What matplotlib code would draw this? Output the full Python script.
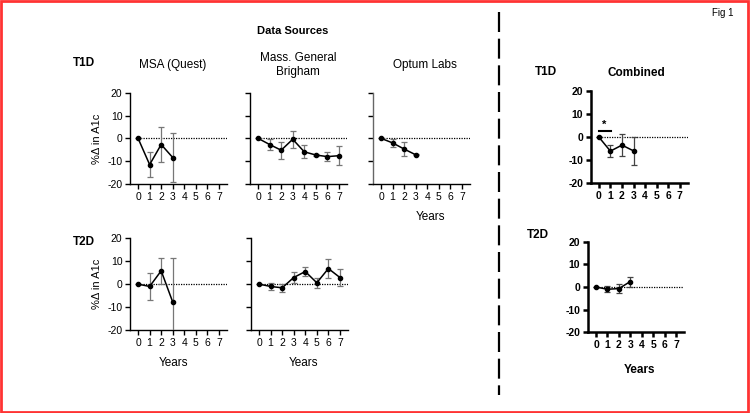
import matplotlib
matplotlib.use("Agg")
import matplotlib.pyplot as plt
from matplotlib.lines import Line2D
from matplotlib.patches import Rectangle

plt.rcParams['font.family'] = ['Liberation Sans', 'DejaVu Sans']
plt.rcParams['axes.unicode_minus'] = False

years = [0, 1, 2, 3, 4, 5, 6, 7]
yticks = [-20, -10, 0, 10, 20]

# T1D
msa_t1d = [0, -11.5, -2.7, -8.4]
msa_t1d_err = [0, 5.6, 7.5, 10.6]
mgb_t1d = [0, -2.7, -5.2, -0.4, -5.9, -7.3, -8.0, -7.6]
mgb_t1d_err = [0, 2.3, 3.8, 3.8, 2.8, 0.4, 2.1, 4.1]
optum_t1d = [0, -2.0, -4.7, -7.2]
optum_t1d_err = [0, 1.6, 3.1, 0.3]
comb_t1d = [0, -6.1, -3.5, -6.0]
comb_t1d_err = [0, 2.5, 4.65, 5.9]

# T2D
msa_t2d = [0, -1.0, 5.8, -7.8]
msa_t2d_err = [0, 5.8, 5.6, 19.1]
mgb_t2d = [0, -1.0, -1.6, 2.9, 5.5, 0.6, 6.8, 2.9]
mgb_t2d_err = [0, 1.5, 1.8, 2.2, 2.1, 2.1, 4.2, 3.6]
comb_t2d = [0, -1.0, -0.7, 2.4]
comb_t2d_err = [0, 1.3, 1.9, 2.2]

W, H = 750, 413
fig = plt.figure(figsize=(7.5, 4.13), dpi=100)


def add_ax(left, right, top, bottom):
    return fig.add_axes([left / W, 1 - bottom / H, (right - left) / W, (bottom - top) / H])


def style(ax, ylabels=True, bold=False):
    lw = 1.8 if bold else 1.0
    for s in ['top', 'right']:
        ax.spines[s].set_visible(False)
    for s in ['left', 'bottom']:
        ax.spines[s].set_linewidth(lw)
    ax.set_xlim(-0.7, 7.7)
    ax.set_ylim(-20, 20)
    ax.set_xticks(years)
    ax.set_yticks(yticks)
    ax.tick_params(axis='both', length=3.5, width=lw, labelsize=7.5, pad=2)
    if bold:
        for lab in ax.get_xticklabels() + ax.get_yticklabels():
            lab.set_fontweight('bold')
    if not ylabels:
        ax.set_yticklabels([])
    ax.axhline(0, xmin=(0 + 0.7) / 8.4, xmax=1, color='black', lw=0.9, ls=(0, (1, 1)), zorder=1)


def plot_series(ax, y, err, bold=False):
    x = years[:len(y)]
    ecol = '#444444' if bold else '#777777'
    ax.errorbar(x, y, yerr=err, color='black', lw=1.1, marker='o', ms=3,
                ecolor=ecol, elinewidth=0.9, capsize=2.2, capthick=0.9, zorder=3,
                clip_on=True)


# Row T1D
ax1 = add_ax(130, 227, 92.7, 184)
style(ax1)
plot_series(ax1, msa_t1d, msa_t1d_err)
ax1.set_ylabel('%Δ in A1c', fontsize=8, labelpad=4)

ax2 = add_ax(250, 347, 92.7, 184)
style(ax2, ylabels=False)
plot_series(ax2, mgb_t1d, mgb_t1d_err)

ax3 = add_ax(373, 470, 92.7, 184)
style(ax3, ylabels=False)
ax3.spines['left'].set_color('#666666')
plot_series(ax3, optum_t1d, optum_t1d_err)

# Row T2D
ax4 = add_ax(130, 227, 238.3, 330)
style(ax4)
plot_series(ax4, msa_t2d, msa_t2d_err)
ax4.set_ylabel('%Δ in A1c', fontsize=8, labelpad=4)

ax5 = add_ax(251, 348, 238.3, 330)
style(ax5, ylabels=False)
plot_series(ax5, mgb_t2d, mgb_t2d_err)

# Combined
ax6 = add_ax(590.7, 688, 90.7, 183.3)
style(ax6, bold=True)
plot_series(ax6, comb_t1d, comb_t1d_err, bold=True)
ax6.plot([0, 1.05], [2.6, 2.6], color='black', lw=1.5)
ax6.text(0.5, 3.2, '*', ha='center', va='bottom', fontsize=8, fontweight='bold')

ax7 = add_ax(588, 684, 241.7, 332.3)
style(ax7, bold=True)
plot_series(ax7, comb_t2d, comb_t2d_err, bold=True)


def ftext(x, y, s, **kw):
    fig.text(x / W, 1 - y / H, s, ha='center', va='center', **kw)


ftext(293, 31, 'Data Sources', fontsize=8, fontweight='bold')
ftext(173, 65, 'MSA (Quest)', fontsize=8.5)
ftext(298, 65, 'Mass. General\nBrigham', fontsize=8.5, linespacing=1.2)
ftext(425, 65, 'Optum Labs', fontsize=8.5)
ftext(430, 217, 'Years', fontsize=8.5)
ftext(84, 63, 'T1D', fontsize=8.5, fontweight='bold')
ftext(84, 242, 'T2D', fontsize=8.5, fontweight='bold')
ftext(173, 363, 'Years', fontsize=8.5)
ftext(303, 363, 'Years', fontsize=8.5)
ftext(546, 72, 'T1D', fontsize=8.5, fontweight='bold')
ftext(636, 73, 'Combined', fontsize=8.5, fontweight='bold')
ftext(538, 235, 'T2D', fontsize=8.5, fontweight='bold')
ftext(640, 370, 'Years', fontsize=8.5, fontweight='bold')
ftext(723, 13, 'Fig 1', fontsize=7)

# dashed divider
fig.add_artist(Line2D([499 / W, 499 / W], [1 - 12 / H, 1 - 395 / H], color='black',
                      lw=1.6, ls=(0, (9, 3)), transform=fig.transFigure))

# red frame
fig.add_artist(Rectangle((0.001, 0.002), 0.996, 0.996, transform=fig.transFigure,
                         fill=False, edgecolor='#ff3333', lw=2))

fig.savefig('out.png', dpi=100)
